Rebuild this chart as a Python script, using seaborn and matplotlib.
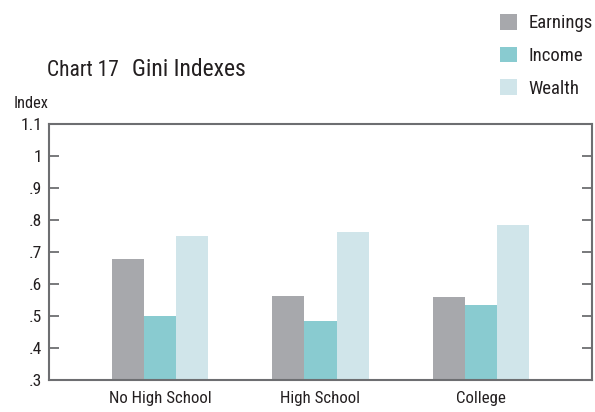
import matplotlib
matplotlib.use("Agg")
import matplotlib.pyplot as plt
from matplotlib import font_manager as fm
import seaborn as sns
import pandas as pd

# data
groups = ["No High School", "High School", "College"]
measures = ["Earnings", "Income", "Wealth"]
earnings = [0.678, 0.563, 0.559]
income = [0.500, 0.484, 0.534]
wealth = [0.750, 0.762, 0.784]
ytick_vals = [0.3, 0.4, 0.5, 0.6, 0.7, 0.8, 0.9, 1.0, 1.1]
ytick_labels = [".3", ".4", ".5", ".6", ".7", ".8", ".9", "1", "1.1"]

colors = {"Earnings": "#a7a8ac", "Income": "#89cbd0", "Wealth": "#d0e5ea"}

df = pd.DataFrame({
    "group": groups * 3,
    "measure": [m for m in measures for _ in groups],
    "value": earnings + income + wealth,
})

sns.set_style("white")

# look for a narrow face, the original uses a condensed grotesque
names = {f.name for f in fm.fontManager.ttflist}
stretch = "normal"
if "Liberation Sans Narrow" in names:
    family = ["Liberation Sans Narrow", "DejaVu Sans"]
elif "Roboto Condensed" in names:
    family = ["Roboto Condensed", "DejaVu Sans"]
elif any(f.name == "DejaVu Sans" and "Condensed" in f.fname for f in fm.fontManager.ttflist):
    family = ["DejaVu Sans"]
    stretch = "condensed"
else:
    family = ["Roboto", "DejaVu Sans"]
plt.rcParams["font.family"] = family
plt.rcParams["font.stretch"] = stretch

axis_gray = "#6d6e71"
text_col = "#231f20"

fig = plt.figure(figsize=(5.95, 4.12), dpi=100)
ax = fig.add_axes([49 / 595, 1 - 380 / 412, 543 / 595, 256 / 412])

sns.barplot(data=df, x="group", y="value", hue="measure", hue_order=measures,
            order=groups, palette=colors, width=0.6, saturation=1,
            edgecolor="none", linewidth=0, ax=ax)

ax.set_ylim(0.3, 1.1)
ax.set_xlim(-0.69, 2.69)
ax.set_yticks(ytick_vals)
ax.set_yticklabels(ytick_labels, fontsize=12.5, color=text_col)
ax.tick_params(axis="y", direction="in", length=7, width=1.3, color=axis_gray,
               left=True, right=True, pad=5)
ax.tick_params(axis="x", length=0, labelsize=12.2, labelcolor=text_col, pad=8)
ax.set_xlabel("")
ax.set_ylabel("")
for side in ["left", "right", "top", "bottom"]:
    ax.spines[side].set_visible(True)
    ax.spines[side].set_color(axis_gray)
    ax.spines[side].set_linewidth(1.5)

t1 = fig.text(47 / 595, 1 - 70 / 412, "Chart 17", fontsize=15.5, color=text_col,
              va="center", ha="left")
fig.canvas.draw()
bb = t1.get_window_extent()
fig.text((bb.x1 + 13) / 595, 1 - 69 / 412, "Gini Indexes", fontsize=17,
         color=text_col, va="center", ha="left")
fig.text(14 / 595, 1 - 103 / 412, "Index", fontsize=11.8, color=text_col,
         va="center", ha="left")

sns.move_legend(ax, "upper left", bbox_to_anchor=(500 / 595, 1 - 14 / 412),
                bbox_transform=fig.transFigure, frameon=False, title=None,
                fontsize=13.5, handlelength=0.9, handleheight=0.9,
                handletextpad=0.62, labelspacing=0.77, borderpad=0,
                borderaxespad=0)
for t in ax.get_legend().get_texts():
    t.set_color(text_col)

fig.savefig("out.png", dpi=100)
